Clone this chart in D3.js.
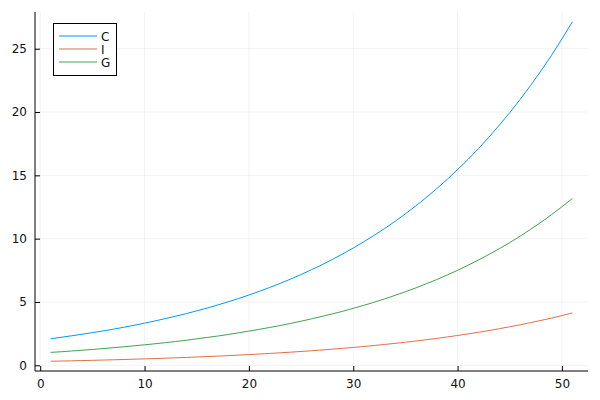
<!DOCTYPE html>
<html><head><meta charset="utf-8">
<script src="https://cdn.jsdelivr.net/npm/d3@7"></script>
<style>body{margin:0;background:#fff}svg{display:block}text{font-family:"DejaVu Sans",sans-serif}</style>
</head><body><svg id="c" width="600" height="400"></svg>
<script>
const xs = d3.range(1, 52);
const seriesNames = ["C", "I", "G"];
const C = [2.10,2.21,2.33,2.45,2.58,2.71,2.85,3.00,3.16,3.33,3.50,3.69,3.88,4.08,4.30,4.52,4.76,5.01,5.27,5.55,5.84,6.15,6.47,6.81,7.17,7.55,7.94,8.36,8.80,9.26,9.75,10.26,10.80,11.36,11.96,12.59,13.25,13.95,14.68,15.45,16.26,17.11,18.01,18.96,19.95,21.00,22.10,23.26,24.48,25.77,27.12];
const I = [0.320,0.337,0.354,0.373,0.393,0.413,0.435,0.458,0.482,0.507,0.534,0.562,0.591,0.622,0.655,0.689,0.726,0.764,0.804,0.846,0.890,0.937,0.986,1.038,1.093,1.150,1.210,1.274,1.341,1.411,1.485,1.563,1.645,1.732,1.823,1.918,2.019,2.125,2.237,2.354,2.478,2.608,2.745,2.889,3.040,3.200,3.368,3.545,3.731,3.927,4.133];
const G = [1.02,1.07,1.13,1.19,1.25,1.32,1.39,1.46,1.54,1.62,1.70,1.79,1.88,1.98,2.09,2.20,2.31,2.43,2.56,2.70,2.84,2.99,3.14,3.31,3.48,3.67,3.86,4.06,4.27,4.50,4.73,4.98,5.24,5.52,5.81,6.11,6.44,6.77,7.13,7.50,7.90,8.31,8.75,9.21,9.69,10.20,10.74,11.30,11.89,12.52,13.17];
const xTicks = [0,10,20,30,40,50];
const yTicks = [0,5,10,15,20,25];
const colors = ["#009AFA", "#E36F47", "#3EA44E"];
const data = [C, I, G];

const svg = d3.select("#c");
const L = 35, R = 588, T = 12, B = 371;
const x = d3.scaleLinear().domain([-0.5, 52.5]).range([L, R]);
const y = d3.scaleLinear().domain([-0.45, 27.9]).range([B, T]);

// grid
svg.append("g").selectAll("line").data(xTicks).join("line")
  .attr("x1", d => x(d)).attr("x2", d => x(d)).attr("y1", T).attr("y2", B)
  .attr("stroke", "#000").attr("stroke-opacity", 0.1).attr("stroke-width", 0.5);
svg.append("g").selectAll("line").data(yTicks).join("line")
  .attr("y1", d => y(d)).attr("y2", d => y(d)).attr("x1", L).attr("x2", R)
  .attr("stroke", "#000").attr("stroke-opacity", 0.1).attr("stroke-width", 0.5);

// axes
const xa = svg.append("g").attr("transform", `translate(0,${B})`)
  .call(d3.axisBottom(x).tickValues(xTicks).tickSize(-5).tickPadding(8).tickSizeOuter(0));
const ya = svg.append("g").attr("transform", `translate(${L},0)`)
  .call(d3.axisLeft(y).tickValues(yTicks).tickSize(-5).tickPadding(8).tickSizeOuter(0));
[xa, ya].forEach(a => {
  a.select(".domain").attr("stroke", "#000").attr("stroke-width", 1);
  a.selectAll(".tick line").attr("stroke", "#000").attr("stroke-width", 1);
  a.selectAll(".tick text").attr("font-size", 12).attr("fill", "#111").attr("font-family", "DejaVu Sans, sans-serif");
});
ya.select(".domain").attr("d", `M0,${T}V${B}`);
xa.select(".domain").attr("d", `M${L},0H${R}`);

// lines
const line = d3.line().x((d, i) => x(xs[i])).y(d => y(d));
data.forEach((s, k) => {
  svg.append("path").datum(s).attr("d", line).attr("fill", "none")
    .attr("stroke", colors[k]).attr("stroke-width", 1);
});

// legend
const lg = svg.append("g");
lg.append("rect").attr("x", 53.5).attr("y", 23.5).attr("width", 63).attr("height", 52)
  .attr("fill", "#fff").attr("stroke", "#000").attr("stroke-width", 1);
seriesNames.forEach((n, k) => {
  const yy = 36 + k * 13;
  lg.append("line").attr("x1", 59).attr("x2", 97).attr("y1", yy).attr("y2", yy)
    .attr("stroke", colors[k]).attr("stroke-width", 1);
  lg.append("text").attr("x", 101).attr("y", yy + 4.5).attr("font-size", 12).attr("fill", "#111").text(n);
});
</script></body></html>
